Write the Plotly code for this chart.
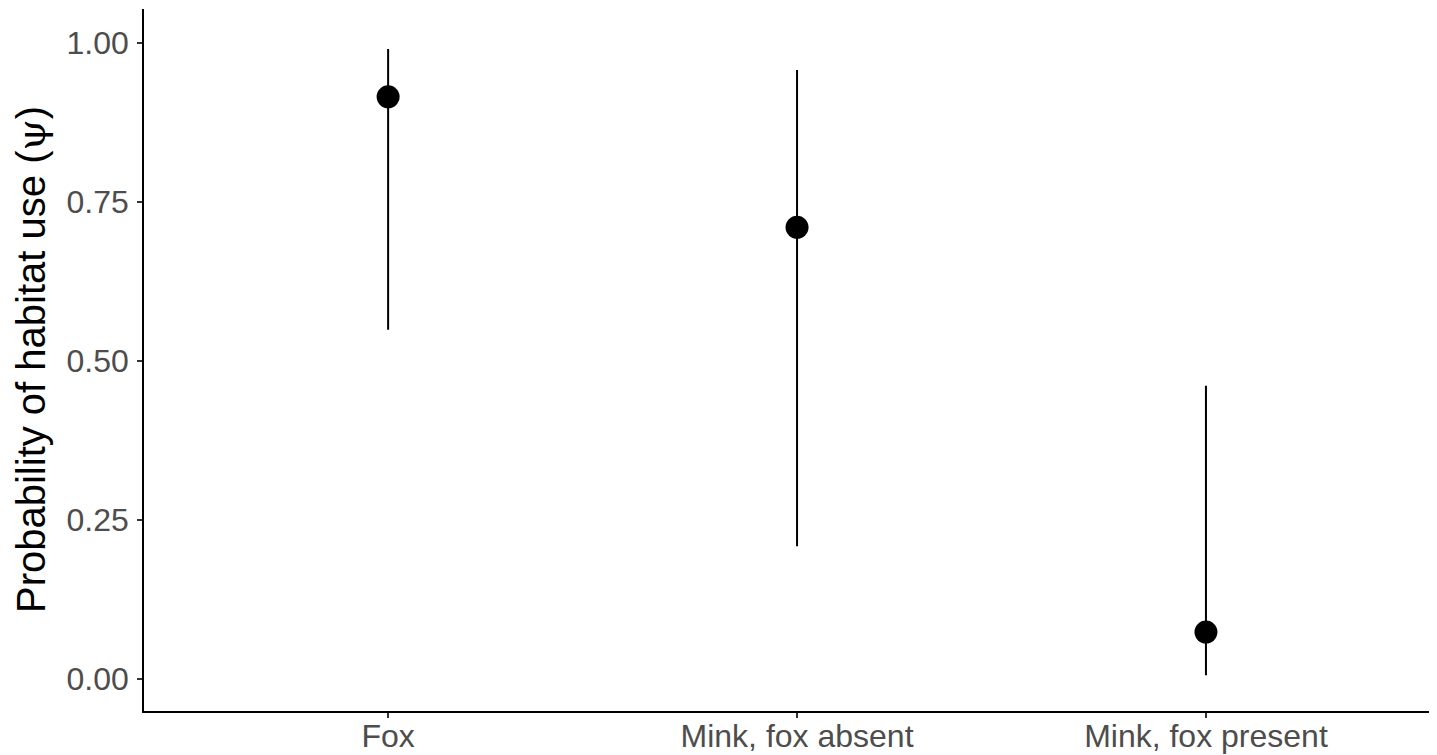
import plotly.graph_objects as go

categories = ["Fox", "Mink, fox absent", "Mink, fox present"]
estimate = [0.915, 0.710, 0.074]
lower = [0.549, 0.209, 0.006]
upper = [0.990, 0.957, 0.461]
ytick_vals = [0.0, 0.25, 0.5, 0.75, 1.0]
ytick_text = ["0.00", "0.25", "0.50", "0.75", "1.00"]
ytitle = "Probability of habitat use (<span style='font-family:DejaVu Serif'>ψ</span>)"

xpos = list(range(len(categories)))
err_plus = [u - e for u, e in zip(upper, estimate)]
err_minus = [e - l for e, l in zip(estimate, lower)]

fig = go.Figure()
fig.add_trace(go.Scatter(
    x=xpos, y=estimate, mode="markers",
    marker=dict(size=23, color="black"),
    error_y=dict(type="data", symmetric=False, array=err_plus, arrayminus=err_minus,
                 width=0, thickness=2, color="black"),
    showlegend=False,
))

fig.add_annotation(
    text=ytitle, xref="paper", yref="paper", x=0, y=0.5,
    xanchor="center", yanchor="middle", xshift=-113, textangle=-90,
    showarrow=False, font=dict(size=40, color="black"),
)

fig.update_layout(
    width=1429, height=747,
    margin=dict(l=136, r=0, t=1, b=44),
    paper_bgcolor="white", plot_bgcolor="white",
    font=dict(family="Liberation Sans, Arial, sans-serif"),
    xaxis=dict(
        range=[-0.597, 2.565], tickmode="array", tickvals=xpos, ticktext=categories,
        showline=True, linecolor="black", linewidth=1.6, showgrid=False, zeroline=False,
        ticks="outside", ticklen=5, tickwidth=1.5, tickcolor="#333333",
        tickfont=dict(size=32, color="#4D4D4D"), automargin=False,
        ticklabelstandoff=-9,
    ),
    yaxis=dict(
        range=[-0.050, 1.053], tickmode="array", tickvals=ytick_vals, ticktext=ytick_text,
        showline=True, linecolor="black", linewidth=1.6, showgrid=False, zeroline=False,
        ticks="outside", ticklen=5, tickwidth=1.5, tickcolor="#333333",
        tickfont=dict(size=32, color="#4D4D4D"), automargin=False,
        ticklabelstandoff=2,
    ),
)

fig.write_html("out.html")
